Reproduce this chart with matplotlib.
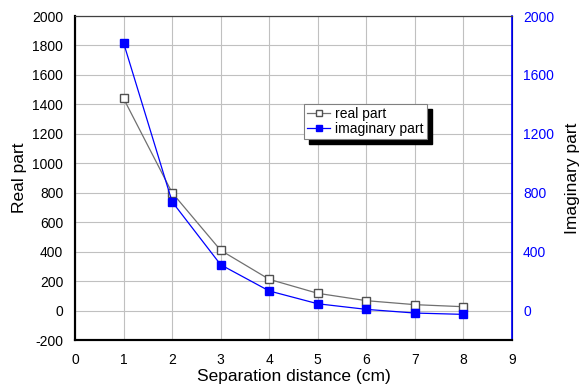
import numpy as np
import matplotlib.pyplot as plt
from matplotlib.patches import Rectangle

plt.rcParams['font.family'] = ['Liberation Sans', 'DejaVu Sans']
plt.rcParams['axes.unicode_minus'] = False

distance = [1, 2, 3, 4, 5, 6, 7, 8]
real_part = [1440, 800, 409, 212, 117, 67, 40, 26]
imag_part = [1818, 739, 311, 133, 46, 8, -17, -26]

fig = plt.figure(figsize=(5.84, 3.86), dpi=100)
ax = fig.add_axes([75/584, 1 - 340/386, (512-75)/584, (340-16)/386])
ax2 = ax.twinx()

ax.plot(distance, real_part, color='#707070', lw=0.9, marker='s', ms=5.2,
        mfc='white', mec='#505050', mew=1.0, label='real part', zorder=3)
ax2.plot(distance, imag_part, color='blue', lw=0.9, marker='s', ms=5.2,
         mfc='blue', mec='blue', label='imaginary part', zorder=3)

ax.set_xlim(0, 9)
ax.set_ylim(-200, 2000)
ax2.set_ylim(-200, 2000)
ax.set_xticks(range(0, 10))
ax.set_yticks(range(-200, 2001, 200))
ax2.set_yticks(range(0, 2001, 400))
ax.grid(True, color='#c0c0c0', lw=0.8)
ax.set_axisbelow(True)

ax.tick_params(axis='y', length=0, labelsize=10, pad=8.5)
ax.tick_params(axis='x', length=0, labelsize=10, pad=9)
ax2.tick_params(length=0, labelsize=10, colors='blue', pad=8)
ax.set_xlabel('Separation distance (cm)', fontsize=12.5, labelpad=2)
ax.set_ylabel('Real part', fontsize=12.5, labelpad=4)
ax2.set_ylabel('Imaginary part', fontsize=12.5, labelpad=8)

for s in ['left', 'bottom']:
    ax.spines[s].set_linewidth(1.5)
    ax2.spines[s].set_linewidth(1.5)
ax2.spines['top'].set_color('#404040')
ax2.spines['right'].set_color('blue')
ax2.spines['right'].set_linewidth(1.2)

h1, l1 = ax.get_legend_handles_labels()
h2, l2 = ax2.get_legend_handles_labels()
leg = ax2.legend(h1 + h2, l1 + l2, loc='upper left',
                 bbox_to_anchor=((304-75)/437, 1 - (104-16)/324),
                 fontsize=10, frameon=True, fancybox=False, framealpha=1,
                 edgecolor='#808080', borderpad=0.2, labelspacing=0.1,
                 handlelength=1.7, handletextpad=0.35, borderaxespad=0,
                 markerscale=0.8)
leg.set_zorder(6)
leg.get_frame().set_linewidth(0.8)

# black shadow behind the legend box
fig.canvas.draw()
bb = leg.get_window_extent()
inv = fig.transFigure.inverted()
(x0, y0), (x1, y1) = inv.transform([[bb.x0 + 5, bb.y0 - 5], [bb.x1 + 5, bb.y1 - 5]])
ax2.add_patch(Rectangle((x0, y0), x1 - x0, y1 - y0, transform=fig.transFigure,
                        color='black', zorder=4, clip_on=False))

fig.savefig('out.png', dpi=100)
